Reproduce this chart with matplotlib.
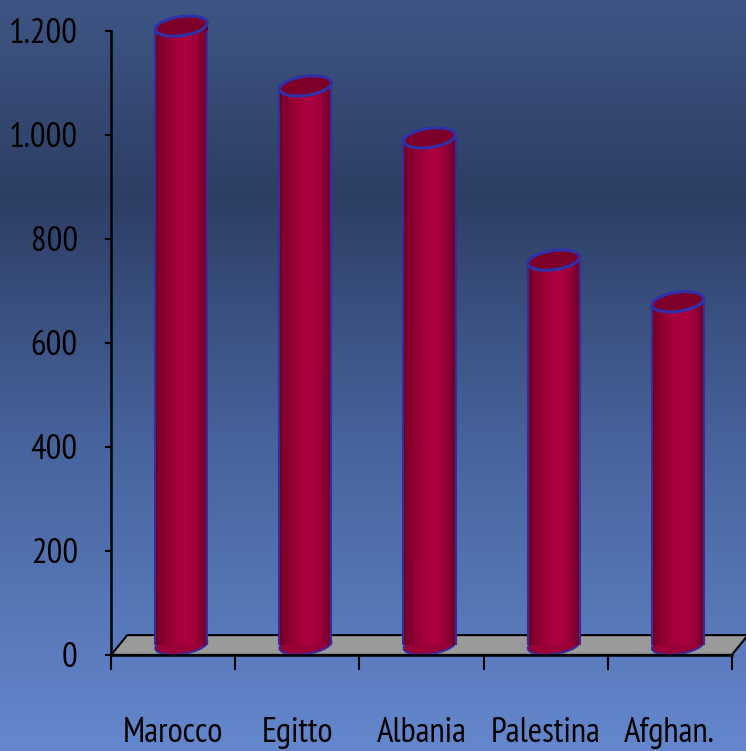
import numpy as np
import matplotlib
matplotlib.use("Agg")
import matplotlib.pyplot as plt
from matplotlib.patches import Ellipse, Polygon
from matplotlib.transforms import Affine2D, ScaledTranslation
from matplotlib.colors import LinearSegmentedColormap
from matplotlib.ticker import FuncFormatter

paesi = ['Marocco', 'Egitto', 'Albania', 'Palestina', 'Afghan.']
valori = [1190, 1075, 975, 740, 660]
yticks = [0, 200, 400, 600, 800, 1000, 1200]

font = ['PT Sans Narrow', 'Roboto Condensed', 'DejaVu Sans']
fsize = 25

fig = plt.figure(figsize=(7.46, 7.51), dpi=100)

# background gradient
bg = fig.add_axes([0, 0, 1, 1], zorder=-10)
bg_cmap = LinearSegmentedColormap.from_list('bg', [
    (0.0, (100/255, 135/255, 205/255)),
    (0.40, (72/255, 100/255, 158/255)),
    (0.74, (45/255, 62/255, 100/255)),
    (1.0, (62/255, 85/255, 132/255))])
bg.imshow(np.linspace(0, 1, 256).reshape(-1, 1), aspect='auto', cmap=bg_cmap,
          origin='lower', extent=[0, 1, 0, 1])
bg.axis('off')

ax = fig.add_axes([0.149, 0.128, 0.832, 0.831])
ax.patch.set_alpha(0)

x = np.arange(len(paesi))

# 3d depth offset of the floor (data units)
dx, dy = 0.13, 38
ax.add_patch(Polygon([(-0.5, 0), (len(paesi) - 0.5, 0),
                      (len(paesi) - 0.5 + dx, dy), (-0.5 + dx, dy)],
                     closed=True, facecolor='#9a9a9a', edgecolor='black',
                     lw=1.5, clip_on=False, zorder=1))

bw = 0.42
bw_px = bw * 124.4
cx = x + dx / 2
base = dy / 2
edge = '#3a2a9a'

cyl_cmap = LinearSegmentedColormap.from_list('cyl', [
    '#700026', '#8f0032', '#a5003b', '#ad003e', '#98003a', '#6c0028'])

for xi in cx:
    # rounded bottom of the cylinder
    e = Ellipse((0, 0), bw_px, 18, angle=8, facecolor='#9a0036',
                edgecolor=edge, lw=1.5, zorder=2,
                transform=Affine2D() + ScaledTranslation(xi, base, ax.transData))
    ax.add_patch(e)

bars = ax.bar(cx, valori, width=bw, bottom=base, color='#a0003a', lw=0, zorder=3)
for b in bars:
    x0, y0 = b.get_x(), b.get_y()
    im = ax.imshow(np.linspace(0, 1, 64).reshape(1, -1), cmap=cyl_cmap,
                   aspect='auto', extent=[x0, x0 + b.get_width(), y0, y0 + b.get_height()],
                   zorder=3.5)
    im.set_clip_path(b)
    b.set_facecolor('none')
    # side outlines of the cylinder
    ax.vlines([x0, x0 + b.get_width()], y0, y0 + b.get_height(), colors=edge,
              lw=1.5, zorder=4)
ax.set_xlim(-0.5, len(paesi) - 0.5)
ax.set_ylim(0, 1200)

for xi, v in zip(cx, valori):
    e = Ellipse((0, 0), bw_px, 19, angle=8, facecolor='#7c0028',
                edgecolor='#3030a8', lw=2.2, zorder=5, clip_on=False,
                transform=Affine2D() + ScaledTranslation(xi, v + base, ax.transData))
    ax.add_patch(e)

for s in ['top', 'right']:
    ax.spines[s].set_visible(False)
ax.spines['left'].set_linewidth(1.8)
ax.spines['bottom'].set_linewidth(1.8)
ax.spines['left'].set_zorder(6)
ax.spines['bottom'].set_zorder(6)

ax.set_yticks(yticks)
ax.yaxis.set_major_formatter(FuncFormatter(lambda v, p: f'{int(v):,}'.replace(',', '.')))
ax.tick_params(axis='y', length=4, width=1.5, pad=20, labelsize=fsize)

ax.set_xticks(np.arange(len(paesi) + 1) - 0.5)
ax.set_xticklabels([])
ax.set_xticks(x, minor=True)
ax.set_xticklabels(paesi, minor=True)
ax.tick_params(axis='x', which='major', length=11, width=1.5)
ax.tick_params(axis='x', which='minor', length=0, pad=45, labelsize=fsize)

for lab in ax.get_xticklabels(minor=True) + ax.get_yticklabels():
    lab.set_family(font)

fig.savefig('out.png', dpi=100)
